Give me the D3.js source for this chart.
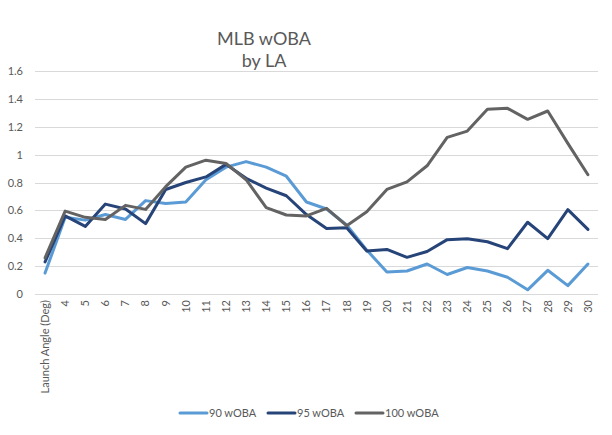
<!DOCTYPE html>
<html lang="en">
<head>
    <meta charset="UTF-8">
    <title>MLB wOBA by LA</title>
    <script src="https://d3js.org/d3.v7.min.js"></script>
</head>
<style>
    html, body {
        margin: 0;
        padding: 0;
        background: #fff;
    }
    text {
        font-family: Lato, 'Open Sans', sans-serif;
        fill: #595959;
    }
</style>
<body>
<svg id="chart" width="612" height="435"></svg>
<script>
    // categories along the x axis
    var angles = ['Launch Angle (Deg)', '4', '5', '6', '7', '8', '9', '10', '11', '12', '13', '14', '15', '16',
        '17', '18', '19', '20', '21', '22', '23', '24', '25', '26', '27', '28', '29', '30']

    // series values
    var woba90 = [0.15, 0.55, 0.53, 0.57, 0.535, 0.67, 0.65, 0.66, 0.82, 0.91, 0.95, 0.91, 0.845, 0.66,
        0.61, 0.495, 0.315, 0.158, 0.165, 0.215, 0.14, 0.19, 0.165, 0.12, 0.03, 0.17, 0.06, 0.215]
    var woba95 = [0.23, 0.56, 0.485, 0.645, 0.61, 0.505, 0.75, 0.80, 0.84, 0.93, 0.83, 0.76, 0.705, 0.57,
        0.47, 0.475, 0.308, 0.32, 0.263, 0.305, 0.39, 0.397, 0.375, 0.325, 0.515, 0.397, 0.605, 0.464]
    var woba100 = [0.26, 0.595, 0.55, 0.535, 0.636, 0.607, 0.77, 0.91, 0.96, 0.937, 0.82, 0.62, 0.567, 0.56,
        0.615, 0.49, 0.59, 0.75, 0.805, 0.92, 1.124, 1.169, 1.325, 1.332, 1.253, 1.313, 1.081, 0.856]

    var yTicks = [0, 0.2, 0.4, 0.6, 0.8, 1, 1.2, 1.4, 1.6]

    var seriesNames = ['90 wOBA', '95 wOBA', '100 wOBA']
    var seriesColors = ['#5b9bd5', '#264478', '#636363']

    var series = [woba90, woba95, woba100].map(function (vals, i) {
        return {name: seriesNames[i], color: seriesColors[i], values: vals}
    })

    var svg = d3.select('#chart')
    // plot box
    var plotLeft = 35, plotRight = 598, plotTop = 71, plotBottom = 294

    var x = d3.scaleBand().domain(angles).range([plotLeft, plotRight])
    var y = d3.scaleLinear().domain([0, 1.6]).range([plotBottom, plotTop])

    // gridlines
    svg.append('g')
        .selectAll('line')
        .data(yTicks)
        .join('line')
        .attr('x1', plotLeft).attr('x2', plotRight)
        .attr('y1', function (d) { return Math.round(y(d)) + 0.5 })
        .attr('y2', function (d) { return Math.round(y(d)) + 0.5 })
        .attr('stroke', '#d9d9d9')
        .attr('stroke-width', 1)

    // y axis labels
    var yAxis = d3.axisLeft(y).tickValues(yTicks).tickSize(0).tickPadding(0)
        .tickFormat(function (d) { return d3.format('')(d) })
    var gy = svg.append('g').attr('transform', 'translate(23,0)').call(yAxis)
    gy.select('.domain').remove()
    gy.selectAll('text').attr('font-size', 11).attr('fill', '#595959')
        .style('font-family', 'Lato, sans-serif')

    // x axis labels, rotated
    var xAxis = d3.axisBottom(x).tickSize(0).tickPadding(0)
    var gx = svg.append('g').attr('transform', 'translate(0,' + (plotBottom + 6) + ')').call(xAxis)
    gx.select('.domain').remove()
    gx.selectAll('text')
        .attr('font-size', 11)
        .attr('fill', '#595959')
        .style('font-family', 'Lato, sans-serif')
        .attr('transform', 'rotate(-90)')
        .attr('text-anchor', 'end')
        .attr('x', 0)
        .attr('y', 0)
        .attr('dy', '0.35em')

    // lines
    var line = d3.line()
        .x(function (d, i) { return x(angles[i]) + x.bandwidth() / 2 })
        .y(function (d) { return y(d) })

    svg.append('g')
        .selectAll('path')
        .data(series)
        .join('path')
        .attr('d', function (d) { return line(d.values) })
        .attr('fill', 'none')
        .attr('stroke', function (d) { return d.color })
        .attr('stroke-width', 3)
        .attr('stroke-linejoin', 'round')
        .attr('stroke-linecap', 'round')

    // title
    var title = svg.append('text')
        .attr('x', 264)
        .attr('y', 45)
        .attr('text-anchor', 'middle')
        .attr('font-size', 18)
    title.append('tspan').attr('x', 264).text('MLB wOBA')
    title.append('tspan').attr('x', 264).attr('dy', 22).text('by LA')

    // legend
    var legendX = [180, 268, 356]
    var legend = svg.append('g')
        .selectAll('g')
        .data(series)
        .join('g')
        .attr('transform', function (d, i) { return 'translate(' + legendX[i] + ',413)' })
    legend.append('line')
        .attr('x1', 0).attr('x2', 27)
        .attr('stroke', function (d) { return d.color })
        .attr('stroke-width', 3)
        .attr('stroke-linecap', 'round')
    legend.append('text')
        .attr('x', 29)
        .attr('dy', '0.35em')
        .attr('font-size', 11)
        .text(function (d) { return d.name })
</script>
</body>
</html>
